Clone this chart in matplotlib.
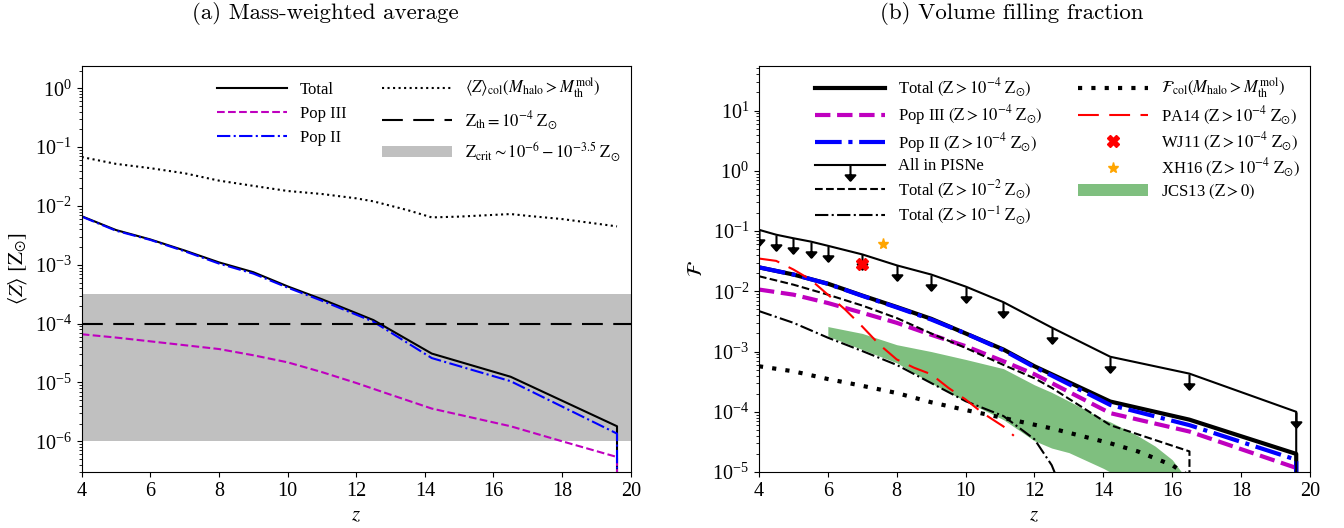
import numpy as np
import matplotlib.pyplot as plt
from matplotlib.ticker import LogLocator, NullFormatter
from matplotlib.patches import Patch
from matplotlib.path import Path

plt.rcParams['font.family'] = 'serif'
plt.rcParams['font.serif'] = ['Liberation Serif', 'DejaVu Serif']
plt.rcParams['mathtext.fontset'] = 'stix'
plt.rcParams['font.size'] = 12

# ---- (a) mass-weighted average metallicity ----
za_tot = [4, 5, 6, 7, 8, 9, 10, 11, 12.5, 14.2, 16.5, 19.6, 19.6]
Z_tot = [6.7e-3, 3.9e-3, 2.7e-3, 1.75e-3, 1.1e-3, 7.5e-4, 4.3e-4, 2.6e-4, 1.15e-4, 3.1e-5, 1.25e-5, 1.8e-6, 0.0]
Z_pop2 = [6.6e-3, 3.8e-3, 2.65e-3, 1.7e-3, 1.05e-3, 7.1e-4, 4.1e-4, 2.45e-4, 1.08e-4, 2.6e-5, 1.05e-5, 1.35e-6, 0.0]
za_p3 = [4, 5, 6, 7, 8, 9, 10, 11, 12, 13, 14.2, 16.5, 18, 19.6, 19.6]
Z_pop3 = [6.6e-5, 5.8e-5, 5.0e-5, 4.3e-5, 3.7e-5, 2.9e-5, 2.2e-5, 1.5e-5, 9.8e-6, 6.2e-6, 3.6e-6, 1.8e-6, 1.0e-6, 5.4e-7, 0.0]
za_col = [4, 5, 6, 7, 8, 9, 10, 11, 12, 12.5, 13.5, 14.2, 15, 16.5, 17, 18, 19.6]
Z_col = [0.068, 0.052, 0.044, 0.036, 0.027, 0.022, 0.018, 0.016, 0.0135, 0.012, 0.0085, 0.0064, 0.0066, 0.0073, 0.0068, 0.006, 0.0045]
Z_th = 1e-4
Z_crit = (1e-6, 10**-3.5)

# ---- (b) volume filling fraction ----
zb = [4, 5, 6, 7, 8, 9, 10, 11.1, 12, 12.5, 14.2, 16.5, 19.6, 19.6]
F_tot = [0.025, 0.019, 0.0134, 0.0085, 0.0055, 0.0035, 0.0020, 1.08e-3, 5.7e-4, 4.2e-4, 1.48e-4, 7.4e-5, 2.0e-5, 0.0]
F_pop3 = [0.0107, 0.0088, 0.0064, 0.0044, 0.0030, 0.0019, 1.23e-3, 6.9e-4, 4.2e-4, 3.0e-4, 9.5e-5, 4.7e-5, 1.17e-5, 0.0]
F_pop2 = [0.025, 0.019, 0.0133, 0.0084, 0.0054, 0.0034, 0.0020, 1.05e-3, 5.5e-4, 4.0e-4, 1.3e-4, 6.0e-5, 1.6e-5, 0.0]

z_pisn = [4, 4.5, 5, 5.5, 6, 7, 8, 9, 10, 11.1, 12.5, 14.2, 16.5, 19.6, 19.6]
F_pisn = [0.105, 0.087, 0.076, 0.067, 0.057, 0.041, 0.027, 0.019, 0.012, 0.0066, 0.0025, 8.2e-4, 4.3e-4, 1.0e-4, 0.0]

z_e2 = [4, 5, 6, 7, 8, 9, 10, 11.1, 12, 12.5, 14.2, 16.5, 16.5]
F_e2 = [0.0178, 0.0129, 0.0088, 0.0058, 0.0036, 0.0020, 1.15e-3, 6.0e-4, 3.6e-4, 2.5e-4, 6.0e-5, 2.2e-5, 0.0]
z_e1 = [4, 5, 6, 7, 8, 9, 10, 11.1, 12, 12.5, 12.65]
F_e1 = [0.0047, 0.0030, 0.0017, 1.02e-3, 6.0e-4, 3.0e-4, 1.5e-4, 8.5e-5, 3.5e-5, 1.3e-5, 8e-6]

z_fcol = [4, 5, 6, 7, 8, 9, 10, 11.1, 12, 12.5, 14.2, 15, 16, 16.3, 16.5]
F_fcol = [5.7e-4, 4.7e-4, 3.5e-4, 2.7e-4, 2.05e-4, 1.44e-4, 1.07e-4, 7.9e-5, 6.1e-5, 5.3e-5, 3.0e-5, 2.2e-5, 1.3e-5, 1.0e-5, 8.5e-6]

z_pa14 = [4, 4.5, 5, 5.5, 6, 6.5, 7, 7.5, 8, 8.5, 9, 9.5, 10, 10.5, 11.1, 11.4]
F_pa14 = [0.035, 0.032, 0.023, 0.0156, 0.0088, 0.005, 0.0026, 0.0013, 7.4e-4, 5.4e-4, 4.2e-4, 2.5e-4, 1.6e-4, 9.5e-5, 5.7e-5, 4.0e-5]

z_wj11, F_wj11 = 7.0, 0.028
z_xh16, F_xh16 = 7.6, 0.062

z_jcs = [6, 7, 8, 9, 10, 11.1, 12, 12.5, 13, 14, 14.2, 15, 15.5, 16, 16.4]
F_jcs_hi = [0.0026, 0.0020, 0.0013, 0.0010, 7.4e-4, 5.2e-4, 2.8e-4, 2.1e-4, 1.5e-4, 7.5e-5, 6.8e-5, 4.0e-5, 2.7e-5, 1.6e-5, 8e-6]
F_jcs_lo = [0.0018, 1.08e-3, 6.5e-4, 3.0e-4, 1.5e-4, 7.4e-5, 3.3e-5, 2.5e-5, 2.1e-5, 1.15e-5, 1.0e-5, 6e-6, 5e-6, 4e-6, 4e-6]

# down arrow marker whose top sits on the data point (upper limit)
arrow = Path([(0, 0), (0, -1), (-0.32, -0.64), (0, -1), (0.32, -0.64), (0, -1)],
             [Path.MOVETO, Path.LINETO, Path.MOVETO, Path.LINETO, Path.LINETO, Path.CLOSEPOLY])

lab4 = r' $(\mathrm{Z} > 10^{-4}\ \mathrm{Z}_{\odot})$'

fig = plt.figure(figsize=(13.44, 5.28), dpi=100)
ax1 = fig.add_axes([0.0608, 0.106, 0.4085, 0.769])
ax2 = fig.add_axes([0.5647, 0.106, 0.410, 0.769])

# panel (a)
ax1.axhspan(Z_crit[0], Z_crit[1], color='silver', lw=0)
l_tot, = ax1.plot(za_tot, Z_tot, 'k-', lw=1.5, label='Total')
l_p3, = ax1.plot(za_p3, Z_pop3, '--', color='m', lw=1.5, label='Pop III')
l_p2, = ax1.plot(za_tot, Z_pop2, '-.', color='b', lw=1.5, label='Pop II')
l_col, = ax1.plot(za_col, Z_col, 'k:', lw=1.5,
                  label=r'$\langle Z\rangle_{\rm col}(M_{\rm halo} > M_{\rm th}^{\rm mol})$')
l_th = ax1.axhline(Z_th, color='k', lw=1.5, dashes=(10, 5),
                   label=r'$\mathrm{Z_{th}} = 10^{-4}\ \mathrm{Z}_{\odot}$')
p_crit = Patch(color='silver', lw=0, label=r'$\mathrm{Z_{crit}} \sim 10^{-6} - 10^{-3.5}\ \mathrm{Z}_{\odot}$')

ax1.set_yscale('log')
ax1.set_xlim(4, 20)
ax1.set_ylim(3e-7, 2.4)
ax1.set_yticks(10.0 ** np.arange(-6, 1))
ax1.set_xlabel('$z$', fontsize=15)
ax1.set_ylabel(r'$\langle Z\rangle\ [\mathrm{Z}_{\odot}]$', fontsize=15)
ax1.text(0.443, 1.13, '(a) Mass-weighted average', transform=ax1.transAxes,
         ha='center', va='center', fontfamily='cmr10', fontsize=16.5)
ax1.legend(handles=[l_tot, l_p3, l_p2, l_col, l_th, p_crit], ncol=2, frameon=False,
           loc='upper right', handlelength=4.2, handletextpad=0.8, columnspacing=2.1,
           borderaxespad=0.2)

# panel (b)
ax2.fill_between(z_jcs, F_jcs_lo, F_jcs_hi, color='green', alpha=0.5, lw=0)
b_tot, = ax2.plot(zb, F_tot, 'k-', lw=3, label='Total' + lab4)
b_p3, = ax2.plot(zb, F_pop3, '--', color='m', lw=3, label='Pop III' + lab4)
b_p2, = ax2.plot(zb, F_pop2, '-.', color='b', lw=3, label='Pop II' + lab4)
b_pisn, = ax2.plot(z_pisn, F_pisn, 'k-', lw=1.5, marker=arrow, ms=22, mew=1.5,
                   mfc='k', mec='k', label='All in PISNe')
b_e2, = ax2.plot(z_e2, F_e2, 'k--', lw=1.5, label=r'Total $(\mathrm{Z} > 10^{-2}\ \mathrm{Z}_{\odot})$')
b_e1, = ax2.plot(z_e1, F_e1, 'k-.', lw=1.5, label=r'Total $(\mathrm{Z} > 10^{-1}\ \mathrm{Z}_{\odot})$')
b_fcol, = ax2.plot(z_fcol, F_fcol, 'k', lw=3, dashes=(1, 2.2),
                   label=r'$\mathcal{F}_{\rm col}(M_{\rm halo} > M_{\rm th}^{\rm mol})$')
b_pa, = ax2.plot(z_pa14, F_pa14, color='r', lw=1.5, dashes=(10, 5), label='PA14' + lab4)
b_wj, = ax2.plot([z_wj11], [F_wj11], 'X', color='r', ms=9, ls='none', label='WJ11' + lab4)
b_xh, = ax2.plot([z_xh16], [F_xh16], '*', color='orange', ms=8, ls='none', label='XH16' + lab4)
p_jcs = Patch(color='green', alpha=0.5, lw=0, label=r'JCS13 $(\mathrm{Z} > 0)$')

ax2.set_yscale('log')
ax2.set_xlim(4, 20)
ax2.set_ylim(1e-5, 55)
ax2.set_yticks(10.0 ** np.arange(-5, 2))
ax2.set_xlabel('$z$', fontsize=15)
ax2.set_ylabel(r'$\mathcal{F}$', fontsize=15)
ax2.text(0.458, 1.13, '(b) Volume filling fraction', transform=ax2.transAxes,
         ha='center', va='center', fontfamily='cmr10', fontsize=16.5)
ax2.legend(handles=[b_tot, b_p3, b_p2, b_pisn, b_e2, b_e1, b_fcol, b_pa, b_wj, b_xh, p_jcs],
           ncol=2, frameon=False, loc='upper right', handlelength=4.2, handletextpad=0.8,
           columnspacing=2.1, labelspacing=0.22, borderaxespad=0.2)

for ax in (ax1, ax2):
    ax.set_xticks(range(4, 21, 2))
    ax.yaxis.set_minor_locator(LogLocator(base=10, subs=np.arange(2, 10), numticks=20))
    ax.yaxis.set_minor_formatter(NullFormatter())
    ax.tick_params(labelsize=14.5)

fig.savefig('out.png', dpi=100)
